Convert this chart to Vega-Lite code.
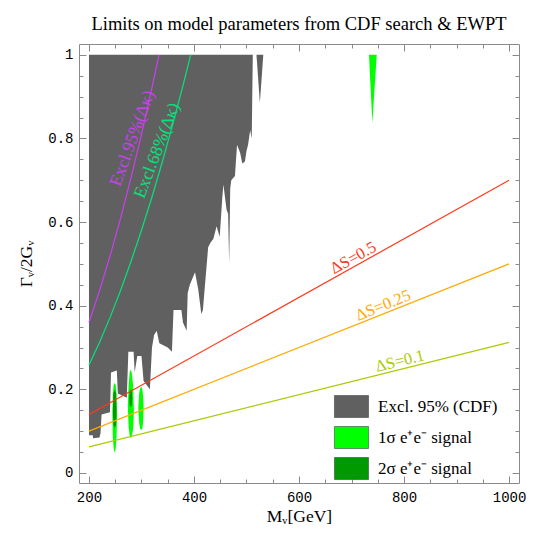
{
  "$schema": "https://vega.github.io/schema/vega-lite/v6.json",
  "width": 440,
  "height": 439,
  "autosize": {"type": "none"},
  "padding": {"left": 79, "top": 44, "right": 26, "bottom": 62},
  "background": "white",
  "title": {"text": "Limits on model parameters from CDF search & EWPT", "font": "Liberation Serif", "fontSize": 18.5, "fontWeight": "normal", "color": "black", "offset": 10},
  "config": {
    "view": {"stroke": "#8a8a8a", "strokeWidth": 1},
    "axis": {"domain": false, "grid": false, "tickColor": "#8a8a8a", "tickWidth": 1, "labelFont": "Liberation Mono", "labelFontSize": 14, "labelColor": "black", "titleFont": "Liberation Serif", "titleFontSize": 17, "titleFontWeight": "normal", "titleColor": "black"}
  },
  "resolve": {"axis": {"x": "independent", "y": "independent"}},
  "layer": [
    {
      "data": {"values": [
        {"g": "a", "M": 200, "lo": 0.090, "hi": 1},
        {"g": "a", "M": 207, "lo": 0.090, "hi": 1},
        {"g": "a", "M": 208, "lo": 0.083, "hi": 1},
        {"g": "a", "M": 220, "lo": 0.085, "hi": 1},
        {"g": "a", "M": 222, "lo": 0.095, "hi": 1},
        {"g": "a", "M": 224, "lo": 0.140, "hi": 1},
        {"g": "a", "M": 240, "lo": 0.145, "hi": 1},
        {"g": "a", "M": 242, "lo": 0.240, "hi": 1},
        {"g": "a", "M": 253, "lo": 0.245, "hi": 1},
        {"g": "a", "M": 255, "lo": 0.190, "hi": 1},
        {"g": "a", "M": 272, "lo": 0.180, "hi": 1},
        {"g": "a", "M": 275, "lo": 0.290, "hi": 1},
        {"g": "a", "M": 285, "lo": 0.290, "hi": 1},
        {"g": "a", "M": 287, "lo": 0.240, "hi": 1},
        {"g": "a", "M": 292, "lo": 0.280, "hi": 1},
        {"g": "a", "M": 300, "lo": 0.280, "hi": 1},
        {"g": "a", "M": 304, "lo": 0.220, "hi": 1},
        {"g": "a", "M": 316, "lo": 0.200, "hi": 1},
        {"g": "a", "M": 320, "lo": 0.300, "hi": 1},
        {"g": "a", "M": 324, "lo": 0.330, "hi": 1},
        {"g": "a", "M": 329, "lo": 0.340, "hi": 1},
        {"g": "a", "M": 334, "lo": 0.310, "hi": 1},
        {"g": "a", "M": 350, "lo": 0.300, "hi": 1},
        {"g": "a", "M": 358, "lo": 0.290, "hi": 1},
        {"g": "a", "M": 361, "lo": 0.390, "hi": 1},
        {"g": "a", "M": 376, "lo": 0.390, "hi": 1},
        {"g": "a", "M": 379, "lo": 0.360, "hi": 1},
        {"g": "a", "M": 386, "lo": 0.340, "hi": 1},
        {"g": "a", "M": 388, "lo": 0.430, "hi": 1},
        {"g": "a", "M": 392, "lo": 0.450, "hi": 1},
        {"g": "a", "M": 402, "lo": 0.480, "hi": 1},
        {"g": "a", "M": 408, "lo": 0.440, "hi": 1},
        {"g": "a", "M": 414, "lo": 0.380, "hi": 1},
        {"g": "a", "M": 417, "lo": 0.390, "hi": 1},
        {"g": "a", "M": 421, "lo": 0.450, "hi": 1},
        {"g": "a", "M": 427, "lo": 0.540, "hi": 1},
        {"g": "a", "M": 431, "lo": 0.550, "hi": 1},
        {"g": "a", "M": 437, "lo": 0.560, "hi": 1},
        {"g": "a", "M": 443, "lo": 0.590, "hi": 1},
        {"g": "a", "M": 449, "lo": 0.565, "hi": 1},
        {"g": "a", "M": 454, "lo": 0.660, "hi": 1},
        {"g": "a", "M": 456, "lo": 0.690, "hi": 1},
        {"g": "a", "M": 462, "lo": 0.630, "hi": 1},
        {"g": "a", "M": 465, "lo": 0.620, "hi": 1},
        {"g": "a", "M": 467, "lo": 0.500, "hi": 1},
        {"g": "a", "M": 469, "lo": 0.680, "hi": 1},
        {"g": "a", "M": 471, "lo": 0.700, "hi": 1},
        {"g": "a", "M": 478, "lo": 0.710, "hi": 1},
        {"g": "a", "M": 482, "lo": 0.785, "hi": 1},
        {"g": "a", "M": 488, "lo": 0.765, "hi": 1},
        {"g": "a", "M": 492, "lo": 0.740, "hi": 1},
        {"g": "a", "M": 497, "lo": 0.745, "hi": 1},
        {"g": "a", "M": 500, "lo": 0.770, "hi": 1},
        {"g": "a", "M": 503, "lo": 0.785, "hi": 1},
        {"g": "a", "M": 507, "lo": 0.820, "hi": 1},
        {"g": "a", "M": 510, "lo": 0.800, "hi": 1},
        {"g": "a", "M": 512, "lo": 1.0, "hi": 1},
        {"g": "b", "M": 519, "lo": 1.0, "hi": 1},
        {"g": "b", "M": 525.5, "lo": 0.885, "hi": 1},
        {"g": "b", "M": 532, "lo": 1.0, "hi": 1}
      ]},
      "mark": {"type": "area", "orient": "vertical", "strokeWidth": 0},
      "encoding": {
        "x": {"field": "M", "type": "quantitative", "title": "Mᵥ[GeV]",
          "scale": {"domain": [181, 1019], "nice": false, "zero": false},
          "axis": {"orient": "bottom", "values": [200, 250, 300, 350, 400, 450, 500, 550, 600, 650, 700, 750, 800, 850, 900, 950, 1000],
            "labelExpr": "datum.value % 200 === 0 ? format(datum.value, 'd') : ''",
            "tickSize": {"condition": {"test": "datum.value % 200 === 0", "value": -7}, "value": -4},
            "labelPadding": 14, "titlePadding": 0, "titleFontSize": 17.5, "labelFlush": false, "labelOverlap": false}},
        "y": {"field": "lo", "type": "quantitative", "title": "Γᵥ/2Gᵥ",
          "scale": {"domain": [-0.024, 1.026], "nice": false, "zero": false},
          "axis": {"orient": "left", "values": [0, 0.05, 0.1, 0.15, 0.2, 0.25, 0.3, 0.35, 0.4, 0.45, 0.5, 0.55, 0.6, 0.65, 0.7, 0.75, 0.8, 0.85, 0.9, 0.95, 1.0],
            "labelExpr": "abs(datum.value*5 - round(datum.value*5)) < 1e-6 ? format(datum.value, '~g') : ''",
            "tickSize": {"condition": {"test": "abs(datum.value*5 - round(datum.value*5)) < 1e-6", "value": -7}, "value": -4},
            "labelPadding": 13, "titlePadding": 12, "titleFontSize": 17.5, "labelFlush": false, "labelOverlap": false}},
        "y2": {"field": "hi"},
        "detail": {"field": "g"},
        "fill": {"datum": "Excl. 95% (CDF)", "type": "nominal",
          "scale": {"domain": ["Excl. 95% (CDF)", "1σ e⁺e⁻ signal", "2σ e⁺e⁻ signal"], "range": ["#606060", "#00ff00", "#009a00"]},
          "legend": {"orient": "none", "legendX": 261, "legendY": 351, "title": null, "padding": 0,
            "symbolType": "M-1.55,-1H1.55V1H-1.55Z", "symbolSize": 484, "symbolStrokeWidth": 0.6, "symbolStrokeColor": "#444444",
            "labelFont": "Liberation Serif", "labelFontSize": 17, "labelColor": "black", "labelOffset": 15, "rowPadding": 6, "labelLimit": 300}}
      }
    },
    {
      "data": {"values": [
        {"g": "b1", "M": 244.5, "lo": 0.14, "hi": 0.14},
        {"g": "b1", "M": 245.5, "lo": 0.085, "hi": 0.19},
        {"g": "b1", "M": 247, "lo": 0.06, "hi": 0.21},
        {"g": "b1", "M": 249, "lo": 0.048, "hi": 0.216},
        {"g": "b1", "M": 251, "lo": 0.06, "hi": 0.21},
        {"g": "b1", "M": 252.5, "lo": 0.085, "hi": 0.19},
        {"g": "b1", "M": 253.5, "lo": 0.14, "hi": 0.14},
        {"g": "b2", "M": 274, "lo": 0.16, "hi": 0.16},
        {"g": "b2", "M": 275.5, "lo": 0.11, "hi": 0.21},
        {"g": "b2", "M": 277.5, "lo": 0.09, "hi": 0.24},
        {"g": "b2", "M": 280, "lo": 0.083, "hi": 0.248},
        {"g": "b2", "M": 282, "lo": 0.09, "hi": 0.235},
        {"g": "b2", "M": 284, "lo": 0.105, "hi": 0.21},
        {"g": "b2", "M": 285.5, "lo": 0.15, "hi": 0.15},
        {"g": "b3", "M": 294, "lo": 0.155, "hi": 0.155},
        {"g": "b3", "M": 295.5, "lo": 0.12, "hi": 0.19},
        {"g": "b3", "M": 297.5, "lo": 0.106, "hi": 0.203},
        {"g": "b3", "M": 299.5, "lo": 0.103, "hi": 0.206},
        {"g": "b3", "M": 301.5, "lo": 0.106, "hi": 0.2},
        {"g": "b3", "M": 303, "lo": 0.12, "hi": 0.185},
        {"g": "b3", "M": 304, "lo": 0.155, "hi": 0.155},
        {"g": "b4", "M": 733.3, "lo": 1.0, "hi": 1.0},
        {"g": "b4", "M": 739.7, "lo": 0.837, "hi": 1.0},
        {"g": "b4", "M": 748, "lo": 1.0, "hi": 1.0}
      ]},
      "mark": {"type": "area", "orient": "vertical", "strokeWidth": 0},
      "encoding": {
        "x": {"field": "M", "type": "quantitative", "axis": null},
        "y": {"field": "lo", "type": "quantitative", "axis": null},
        "y2": {"field": "hi"},
        "detail": {"field": "g"},
        "fill": {"datum": "1σ e⁺e⁻ signal", "type": "nominal"}
      }
    },
    {
      "data": {"values": [
        {"g": "d1", "M": 245.5, "lo": 0.15, "hi": 0.15},
        {"g": "d1", "M": 246.5, "lo": 0.115, "hi": 0.19},
        {"g": "d1", "M": 249, "lo": 0.108, "hi": 0.2},
        {"g": "d1", "M": 251.5, "lo": 0.115, "hi": 0.19},
        {"g": "d1", "M": 252.5, "lo": 0.15, "hi": 0.15},
        {"g": "d2", "M": 276.6, "lo": 0.18, "hi": 0.18},
        {"g": "d2", "M": 277.5, "lo": 0.162, "hi": 0.196},
        {"g": "d2", "M": 279.5, "lo": 0.158, "hi": 0.2},
        {"g": "d2", "M": 281.5, "lo": 0.162, "hi": 0.196},
        {"g": "d2", "M": 282.4, "lo": 0.18, "hi": 0.18}
      ]},
      "mark": {"type": "area", "orient": "vertical", "strokeWidth": 0},
      "encoding": {
        "x": {"field": "M", "type": "quantitative", "axis": null},
        "y": {"field": "lo", "type": "quantitative", "axis": null},
        "y2": {"field": "hi"},
        "detail": {"field": "g"},
        "fill": {"datum": "2σ e⁺e⁻ signal", "type": "nominal"}
      }
    },
    {
      "data": {"values": [
        {"s": "k95", "M": 200, "v": 0.36},
        {"s": "k95", "M": 220, "v": 0.4356},
        {"s": "k95", "M": 240, "v": 0.5184},
        {"s": "k95", "M": 260, "v": 0.6084},
        {"s": "k95", "M": 280, "v": 0.7056},
        {"s": "k95", "M": 300, "v": 0.81},
        {"s": "k95", "M": 320, "v": 0.9216},
        {"s": "k95", "M": 333.3, "v": 1.0},
        {"s": "k68", "M": 200, "v": 0.258},
        {"s": "k68", "M": 220, "v": 0.312},
        {"s": "k68", "M": 240, "v": 0.3715},
        {"s": "k68", "M": 260, "v": 0.436},
        {"s": "k68", "M": 280, "v": 0.5057},
        {"s": "k68", "M": 300, "v": 0.5805},
        {"s": "k68", "M": 320, "v": 0.660},
        {"s": "k68", "M": 340, "v": 0.7456},
        {"s": "k68", "M": 360, "v": 0.836},
        {"s": "k68", "M": 380, "v": 0.931},
        {"s": "k68", "M": 393.7, "v": 1.0},
        {"s": "s05", "M": 200, "v": 0.14},
        {"s": "s05", "M": 1000, "v": 0.70},
        {"s": "s025", "M": 200, "v": 0.10},
        {"s": "s025", "M": 1000, "v": 0.50},
        {"s": "s01", "M": 200, "v": 0.0625},
        {"s": "s01", "M": 1000, "v": 0.3125}
      ]},
      "mark": {"type": "line", "strokeWidth": 1.2},
      "encoding": {
        "x": {"field": "M", "type": "quantitative",
          "axis": {"orient": "top", "title": null, "labels": false, "values": [200, 250, 300, 350, 400, 450, 500, 550, 600, 650, 700, 750, 800, 850, 900, 950, 1000],
            "tickSize": {"condition": {"test": "datum.value % 200 === 0", "value": -7}, "value": -4}}},
        "y": {"field": "v", "type": "quantitative",
          "axis": {"orient": "right", "title": null, "labels": false, "values": [0, 0.05, 0.1, 0.15, 0.2, 0.25, 0.3, 0.35, 0.4, 0.45, 0.5, 0.55, 0.6, 0.65, 0.7, 0.75, 0.8, 0.85, 0.9, 0.95, 1.0],
            "tickSize": {"condition": {"test": "abs(datum.value*5 - round(datum.value*5)) < 1e-6", "value": -7}, "value": -4}}},
        "stroke": {"field": "s", "type": "nominal", "legend": null,
          "scale": {"domain": ["k95", "k68", "s05", "s025", "s01"], "range": ["#c840f0", "#00e67a", "#ff3a1a", "#ffaa00", "#aacc00"]}},
        "order": {"field": "M", "type": "quantitative"}
      }
    },
    {
      "data": {"values": [{"M": 711, "v": 0.4977, "t": "ΔS=0.5"}]},
      "mark": {"type": "text", "font": "Liberation Serif", "fontSize": 16.5, "color": "#ff3a1a", "angle": 331, "align": "center", "baseline": "alphabetic", "dy": -3},
      "encoding": {"x": {"field": "M", "type": "quantitative", "axis": null}, "y": {"field": "v", "type": "quantitative", "axis": null}, "text": {"field": "t"}}
    },
    {
      "data": {"values": [{"M": 766, "v": 0.383, "t": "ΔS=0.25"}]},
      "mark": {"type": "text", "font": "Liberation Serif", "fontSize": 16.5, "color": "#ffaa00", "angle": 338, "align": "center", "baseline": "alphabetic", "dy": -3},
      "encoding": {"x": {"field": "M", "type": "quantitative", "axis": null}, "y": {"field": "v", "type": "quantitative", "axis": null}, "text": {"field": "t"}}
    },
    {
      "data": {"values": [{"M": 796, "v": 0.249, "t": "ΔS=0.1"}]},
      "mark": {"type": "text", "font": "Liberation Serif", "fontSize": 16.5, "color": "#aacc00", "angle": 346, "align": "center", "baseline": "alphabetic", "dy": -3},
      "encoding": {"x": {"field": "M", "type": "quantitative", "axis": null}, "y": {"field": "v", "type": "quantitative", "axis": null}, "text": {"field": "t"}}
    },
    {
      "data": {"values": [{"M": 283, "v": 0.80, "t": "Excl.95%(Δκ)"}]},
      "mark": {"type": "text", "font": "Liberation Serif", "fontSize": 17.5, "color": "#c840f0", "angle": 290, "align": "center", "baseline": "middle"},
      "encoding": {"x": {"field": "M", "type": "quantitative", "axis": null}, "y": {"field": "v", "type": "quantitative", "axis": null}, "text": {"field": "t"}}
    },
    {
      "data": {"values": [{"M": 330, "v": 0.771, "t": "Excl.68%(Δκ)"}]},
      "mark": {"type": "text", "font": "Liberation Serif", "fontSize": 17.5, "color": "#00e67a", "angle": 291, "align": "center", "baseline": "middle"},
      "encoding": {"x": {"field": "M", "type": "quantitative", "axis": null}, "y": {"field": "v", "type": "quantitative", "axis": null}, "text": {"field": "t"}}
    }
  ]
}
